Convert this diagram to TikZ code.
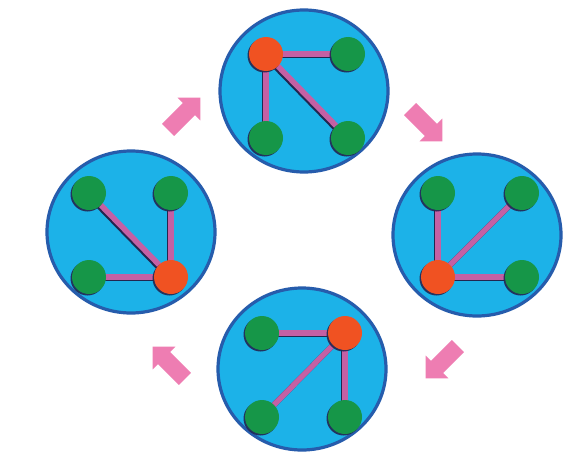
\documentclass[tikz,border=0pt]{standalone}
\usetikzlibrary{shapes.geometric,shadows}
\definecolor{discfill}{RGB}{28,178,232}
\definecolor{discborder}{RGB}{38,92,172}
\definecolor{gnode}{RGB}{22,150,72}
\definecolor{rnode}{RGB}{240,82,34}
\definecolor{linkpink}{RGB}{196,96,164}
\definecolor{shadowdark}{RGB}{35,38,80}
\definecolor{arrowpink}{RGB}{238,125,178}
\pgfdeclarelayer{bg}
\pgfdeclarelayer{mid}
\pgfsetlayers{bg,mid,main}
\tikzset{
  disc/.style={ellipse, draw=discborder, line width=3.2pt, fill=discfill, minimum width=168pt, minimum height=162pt, inner sep=0pt},
  dot/.style={circle, minimum size=34pt, inner sep=0pt, drop shadow={shadow xshift=-1.5pt, shadow yshift=-1.5pt, fill=shadowdark, opacity=0.9}},
  gdot/.style={dot, fill=gnode},
  rdot/.style={dot, fill=rnode},
  linkshadow/.style={draw=shadowdark, line width=5.5pt, transform canvas={shift={(-1.5pt,-1.5pt)}}},
  link/.style={draw=linkpink, line width=5.5pt},
  blkarrow/.pic={\fill[arrowpink] (-22.5,-8.5) -- (7,-8.5) -- (7,-16) -- (23,0) -- (7,16) -- (7,8.5) -- (-22.5,8.5) -- cycle;}
}
\begin{document}
\begin{tikzpicture}[x=1pt,y=-1pt]
\useasboundingbox (0,0) rectangle (580,460);
% discs
\begin{pgfonlayer}{bg}
\fill[white] (0,0) rectangle (580,460);
\node[disc] (dtop) at (304,91) {};
\node[disc] (dleft) at (131,232) {};
\node[disc] (dright) at (477,235) {};
\node[disc] (dbot) at (302,369) {};
\end{pgfonlayer}
% top group
\node[rdot] (t1) at (266,54) {};
\node[gdot] (t2) at (348,54) {};
\node[gdot] (t3) at (266,138) {};
\node[gdot] (t4) at (348,138) {};
% left group
\node[gdot] (l1) at (89,193) {};
\node[gdot] (l2) at (171,193) {};
\node[gdot] (l3) at (89,277) {};
\node[rdot] (l4) at (171,277) {};
% right group
\node[gdot] (r1) at (438,193) {};
\node[gdot] (r2) at (522,193) {};
\node[rdot] (r3) at (438,277) {};
\node[gdot] (r4) at (522,277) {};
% bottom group
\node[gdot] (b1) at (262,333) {};
\node[rdot] (b2) at (345,333) {};
\node[gdot] (b3) at (262,417) {};
\node[gdot] (b4) at (345,417) {};
% links
\begin{pgfonlayer}{mid}
\foreach \a/\b in {t1/t2,t1/t3,t1/t4,l4/l1,l4/l2,l4/l3,r3/r1,r3/r2,r3/r4,b2/b1,b2/b3,b2/b4}{
  \draw[linkshadow] (\a.center) -- (\b.center);
}
\foreach \a/\b in {t1/t2,t1/t3,t1/t4,l4/l1,l4/l2,l4/l3,r3/r1,r3/r2,r3/r4,b2/b1,b2/b3,b2/b4}{
  \draw[link] (\a.center) -- (\b.center);
}
\end{pgfonlayer}
% cycle arrows
\pic[rotate=45] at (184,114) {blkarrow};
\pic[rotate=-45] at (426,125) {blkarrow};
\pic[rotate=-135] at (442,362) {blkarrow};
\pic[rotate=135] at (169,363) {blkarrow};
\end{tikzpicture}
\end{document}
